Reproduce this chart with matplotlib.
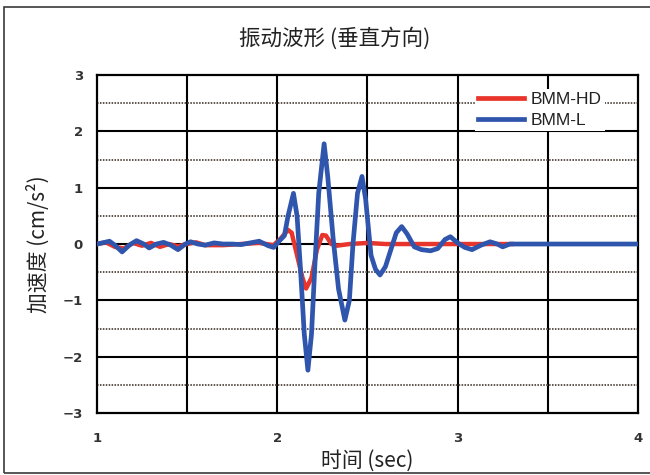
import matplotlib
matplotlib.use("Agg")
import matplotlib.pyplot as plt
from matplotlib.patches import Rectangle

plt.rcParams['font.family'] = ['Noto Sans CJK SC', 'DejaVu Sans']

# Vertical vibration waveforms (time in sec, acceleration in cm/s^2)
t_l = [1.00, 1.03, 1.07, 1.10, 1.14, 1.18, 1.22, 1.26, 1.29, 1.33, 1.37, 1.41,
       1.45, 1.49, 1.52, 1.56, 1.60, 1.65, 1.70, 1.75, 1.80, 1.85, 1.90, 1.95,
       1.98, 2.01, 2.04, 2.06, 2.09, 2.11, 2.13, 2.15, 2.17, 2.19, 2.21, 2.23,
       2.26, 2.28, 2.31, 2.34, 2.375, 2.40, 2.42, 2.445, 2.47, 2.49, 2.52,
       2.545, 2.57, 2.60, 2.63, 2.66, 2.69, 2.72, 2.76, 2.80, 2.85, 2.89,
       2.93, 2.96, 3.00, 3.04, 3.08, 3.13, 3.18, 3.22, 3.25, 3.29, 4.00]
a_l = [0.0, 0.02, 0.05, -0.02, -0.14, -0.02, 0.06, 0.0, -0.07, 0.0, 0.03, -0.02,
       -0.1, 0.0, 0.04, 0.0, -0.02, 0.02, 0.0, 0.0, -0.01, 0.02, 0.05, -0.03,
       -0.06, 0.05, 0.15, 0.5, 0.9, 0.5, -0.5, -1.6, -2.24, -1.6, -0.3, 0.9,
       1.78, 1.2, 0.1, -0.8, -1.35, -1.0, 0.0, 0.9, 1.2, 0.8, -0.2,
       -0.45, -0.55, -0.4, -0.1, 0.2, 0.31, 0.18, -0.05, -0.1, -0.12, -0.08,
       0.08, 0.13, 0.02, -0.06, -0.1, -0.02, 0.04, 0.0, -0.05, 0.0, 0.0]

t_hd = [1.00, 1.05, 1.10, 1.15, 1.20, 1.25, 1.30, 1.35, 1.40, 1.45, 1.50, 1.55,
        1.60, 1.70, 1.80, 1.90, 1.98, 2.02, 2.06, 2.08, 2.11, 2.14, 2.16, 2.19,
        2.22, 2.25, 2.27, 2.30, 2.33, 2.40, 2.50, 2.60, 3.00, 3.30]
a_hd = [0.0, 0.03, -0.05, -0.08, 0.02, -0.03, 0.02, -0.05, 0.0, -0.04, 0.0, 0.03,
        -0.02, -0.02, 0.0, 0.02, -0.02, 0.1, 0.25, 0.2, -0.2, -0.6, -0.79, -0.6,
        -0.1, 0.16, 0.15, 0.0, -0.03, 0.0, 0.02, 0.0, 0.0, 0.0]

x_ticks = [1, 2, 3, 4]
y_ticks = [-3, -2, -1, 0, 1, 2, 3]
y_tick_labels = ['\u22123', '\u22122', '\u22121', '0', '1', '2', '3']

fig = plt.figure(figsize=(6.5, 4.75), dpi=100)
fig.patch.set_facecolor('white')
ax = fig.add_axes([0.149, 0.1305, 0.8325, 0.7115])

# solid grid every 0.5 s / 1 unit, dotted lines at half units
for x in [1.5, 2.0, 2.5, 3.0, 3.5]:
    ax.axvline(x, color='black', lw=1.5, zorder=1)
for y in [-2, -1, 0, 1, 2]:
    ax.axhline(y, color='black', lw=1.5, zorder=1)
for y in [-2.5, -1.5, -0.5, 0.5, 1.5, 2.5]:
    ax.axhline(y, color='#5e554e', lw=1.4, ls=(0, (0.8, 0.7)), zorder=1)

ax.plot(t_hd, a_hd, color='#e8342a', lw=3.2, label='BMM-HD', zorder=3,
        solid_joinstyle='round')
ax.plot(t_l, a_l, color='#2f55ad', lw=3.4, label='BMM-L', zorder=4,
        solid_joinstyle='round')

ax.set_xlim(1, 4)
ax.set_ylim(-3, 3)
ax.set_xticks(x_ticks)
ax.set_xticklabels([str(v) for v in x_ticks])
ax.set_yticks(y_ticks)
ax.set_yticklabels(y_tick_labels)
ax.tick_params(axis='both', length=0, labelsize=9.5)
ax.tick_params(axis='x', pad=14)
ax.tick_params(axis='y', pad=10)
for lab in ax.get_xticklabels() + ax.get_yticklabels():
    lab.set_fontfamily(['DejaVu Sans'])
    lab.set_fontweight('bold')
    lab.set_color('#333333')
for s in ax.spines.values():
    s.set_linewidth(1.6)
    s.set_color('black')

ax.set_xlabel('时间 (sec)', fontsize=15, labelpad=3, color='#222222')
ax.set_ylabel('加速度 (cm/s²)', fontsize=15, labelpad=9, color='#222222')
fig.text(0.515, 0.92, '振动波形 (垂直方向)', ha='center', va='center',
         fontsize=15.5, color='#222222')

leg = ax.legend(loc='upper right', bbox_to_anchor=(0.955, 0.985), frameon=True,
                fontsize=12.5, handlelength=2.6, handletextpad=0.4,
                labelspacing=0.3, borderpad=0.2, fancybox=False)
leg.get_frame().set_edgecolor('none')
leg.get_frame().set_facecolor('white')
leg.get_frame().set_alpha(1)
for txt in leg.get_texts():
    txt.set_fontfamily(['Liberation Sans', 'DejaVu Sans'])
    txt.set_color('#222222')
for h in leg.get_lines():
    h.set_linewidth(3.4)

# outer frame around the figure
fig.patches.append(Rectangle((0.006, 0.004), 1.1, 0.981, transform=fig.transFigure,
                             fill=False, edgecolor='#3a3a3a', lw=1.2, zorder=0))

fig.savefig('out.png', dpi=100, facecolor='white')
